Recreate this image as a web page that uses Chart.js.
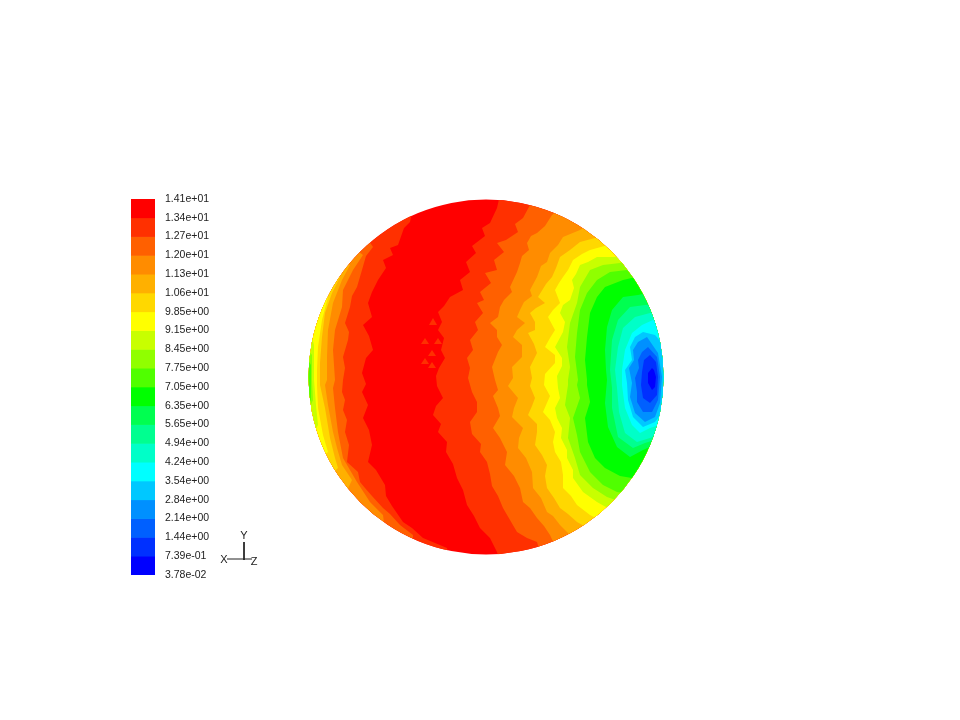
<!DOCTYPE html>
<html>
<head>
<meta charset="utf-8">
<title>Contours</title>
<script src="https://cdn.jsdelivr.net/npm/chart.js@4"></script>
<style>
    html, body { margin: 0; padding: 0; background: #fff; }
    #wrap { position: relative; width: 960px; height: 720px; overflow: hidden; }
    canvas { position: absolute; filter: blur(0.5px); }
    #sphereChart { left: 0; top: 0; }
    #legendChart { left: 131px; top: 179px; }
</style>
</head>
<body>
<div id="wrap">
    <canvas id="sphereChart" width="960" height="720"></canvas>
    <canvas id="legendChart" width="84" height="420"></canvas>
</div>
<script>
const levelLabels = ['1.41e+01', '1.34e+01', '1.27e+01', '1.20e+01', '1.13e+01', '1.06e+01', '9.85e+00',
    '9.15e+00', '8.45e+00', '7.75e+00', '7.05e+00', '6.35e+00', '5.65e+00', '4.94e+00', '4.24e+00',
    '3.54e+00', '2.84e+00', '2.14e+00', '1.44e+00', '7.39e-01', '3.78e-02'];
const levelColors = ['#ff0000', '#ff3000', '#ff6000', '#ff8c00', '#ffb000', '#ffd800', '#ffff00',
    '#c8ff00', '#90ff00', '#50ff00', '#00ff00', '#00ff50', '#00ff90', '#00ffc8', '#00ffff',
    '#00c8ff', '#0090ff', '#0060ff', '#0030ff', '#0000ff'];

// contour lines, top to bottom; [x, y] in picture pixels
const rightContours = [
    [[500,195],[497,208],[490,223],[482,228],[485,236],[472,246],[476,253],[466,262],[470,272],[460,280],[463,290],[450,297],[444,306],[438,312],[442,322],[438,330],[444,338],[441,350],[445,358],[439,368],[436,376],[437,386],[443,398],[436,406],[433,415],[441,424],[438,432],[447,442],[446,452],[453,464],[457,478],[463,490],[467,505],[474,516],[480,528],[490,538],[497,552],[500,562]],
    [[530,205],[523,218],[515,224],[518,232],[506,240],[497,243],[504,252],[494,260],[497,270],[485,273],[491,283],[480,292],[484,300],[477,303],[483,313],[475,322],[478,330],[470,340],[473,350],[467,358],[470,368],[468,378],[472,392],[477,402],[477,412],[470,422],[472,434],[481,444],[480,452],[487,462],[490,474],[492,486],[498,496],[503,508],[510,520],[517,532],[527,538],[537,542],[540,552]],
    [[558,210],[552,215],[545,226],[537,233],[531,236],[527,243],[529,250],[522,256],[520,263],[517,272],[510,287],[512,292],[504,300],[500,307],[498,317],[490,323],[497,330],[497,337],[502,345],[498,352],[492,367],[495,380],[498,390],[493,396],[498,408],[500,416],[493,428],[500,438],[507,452],[505,465],[514,476],[520,488],[523,502],[530,508],[537,518],[544,526],[550,535],[556,548]],
    [[588,225],[580,230],[563,237],[558,245],[550,253],[547,262],[541,266],[537,277],[530,290],[532,296],[524,302],[520,310],[517,317],[525,323],[517,330],[513,337],[522,345],[522,357],[512,367],[513,378],[508,386],[518,398],[514,408],[512,417],[523,428],[519,438],[518,448],[526,458],[532,472],[533,488],[541,498],[547,512],[553,516],[560,525],[575,540]],
    [[603,235],[595,238],[580,242],[570,250],[560,257],[556,268],[552,277],[546,284],[538,297],[545,303],[536,308],[530,313],[535,322],[535,330],[528,333],[534,344],[537,353],[530,367],[532,378],[530,386],[535,398],[532,406],[528,415],[537,424],[537,432],[535,445],[542,455],[547,465],[545,476],[547,488],[554,498],[560,508],[568,514],[577,522],[600,535]],
    [[615,240],[608,245],[590,250],[582,254],[573,260],[568,270],[563,277],[559,283],[555,290],[560,303],[553,310],[548,317],[555,330],[550,338],[545,347],[555,355],[555,363],[545,374],[544,385],[550,396],[543,412],[550,420],[555,432],[553,442],[555,452],[561,462],[563,475],[563,488],[571,496],[577,505],[590,515],[610,525]],
    [[622,252],[615,257],[597,257],[588,262],[580,265],[576,274],[572,280],[574,288],[570,300],[563,305],[560,313],[565,322],[563,332],[555,347],[562,358],[562,366],[557,376],[558,388],[560,398],[555,408],[557,418],[562,428],[561,438],[567,450],[567,458],[573,470],[573,478],[583,492],[597,502],[620,515]],
    [[628,258],[620,263],[603,265],[590,270],[580,287],[577,303],[570,323],[567,347],[570,367],[568,380],[568,385],[565,405],[570,418],[568,438],[575,458],[580,475],[593,488],[607,497],[630,505]],
    [[635,268],[627,270],[610,272],[597,280],[587,293],[580,310],[577,333],[575,357],[578,380],[577,385],[580,398],[573,418],[577,435],[580,452],[590,472],[603,485],[617,492],[640,495]],
    [[640,276],[623,280],[605,287],[597,297],[590,313],[587,337],[585,360],[587,380],[587,385],[590,402],[585,418],[588,442],[595,458],[605,468],[620,476],[632,478],[650,476]],
    [[652,292],[638,295],[623,297],[612,310],[607,327],[605,350],[606,370],[607,380],[605,403],[608,427],[617,447],[630,457],[643,450],[665,440]],
    [[660,304],[645,305],[630,307],[618,320],[612,340],[610,370],[612,388],[612,408],[618,437],[633,448],[645,443],[670,435]],
    [[664,312],[650,313],[635,317],[623,328],[618,347],[615,370],[617,388],[619,412],[625,433],[637,442],[650,438],[672,428]],
    [[668,320],[653,320],[642,325],[632,333],[625,350],[622,370],[622,385],[625,408],[632,425],[640,433],[650,428],[675,420]]
];
const leftContours = [
    [[413,208],[410,222],[404,228],[398,245],[390,248],[393,255],[383,260],[386,268],[378,280],[372,292],[368,303],[372,317],[363,325],[369,336],[373,350],[366,358],[362,373],[366,384],[362,392],[368,405],[363,418],[369,430],[372,445],[368,462],[376,470],[385,485],[386,496],[392,506],[403,522],[412,528],[423,538],[447,548],[450,562]],
    [[365,235],[373,247],[366,256],[362,270],[357,287],[352,296],[350,307],[345,323],[349,332],[348,340],[343,357],[345,368],[343,380],[342,392],[345,400],[343,410],[347,420],[345,432],[349,445],[347,462],[358,472],[360,482],[365,488],[372,496],[383,508],[390,514],[400,525],[413,535],[413,550]],
    [[350,245],[363,255],[353,270],[343,290],[342,307],[335,330],[333,350],[335,380],[333,388],[335,408],[338,432],[343,458],[357,482],[370,502],[383,515],[385,530]],
    [[335,255],[350,265],[342,280],[333,303],[328,330],[327,357],[327,380],[325,385],[328,405],[333,432],[337,448],[342,465],[352,480],[345,495]],
    [[325,265],[340,277],[332,293],[325,313],[322,337],[320,363],[320,385],[325,408],[330,438],[335,458],[338,468],[325,480]],
    [[325,275],[328,297],[322,320],[318,347],[317,370],[317,385],[318,408],[323,435],[328,452],[318,460]],
    [[310,330],[314,345],[314,380],[316,405],[318,425],[310,440]],
    [[305,345],[312,355],[312,380],[313,400],[305,420]],
    [[305,355],[311,365],[311,385],[311,400],[305,410]]
];
// closed rings round the cold spot, outermost first
const spotContours = [
    [[643,332],[635,337],[630,347],[632,360],[625,370],[627,383],[628,400],[633,417],[643,427],[655,422],[664,410],[666,377],[664,345],[655,335]],
    [[647,337],[638,342],[633,350],[634,360],[629,368],[632,383],[630,397],[635,413],[645,422],[655,417],[660,403],[662,377],[658,353]],
    [[648,347],[642,352],[638,360],[639,368],[635,378],[637,392],[637,402],[643,412],[652,412],[658,400],[660,377],[657,357]],
    [[650,355],[644,360],[642,372],[641,385],[643,398],[650,403],[657,395],[658,377],[656,362]],
    [[652,368],[648,373],[648,383],[652,390],[655,387],[656,377],[654,370]]
];
// small lighter triangles left inside the red band
const redSpeckles = [
    [[433,318],[429,325],[437,325]], [[425,338],[421,344],[429,344]], [[438,338],[434,344],[442,344]],
    [[432,350],[428,356],[436,356]], [[432,362],[428,368],[436,368]], [[425,358],[421,364],[429,364]]
];
const sphereBounds = [[300,190],[672,190],[672,566],[300,566]];
const sphereCenter = [486, 377];
const sphereRadius = 177.5;

const triadLines = [[[244,542],[244,560]], [[227,559],[252,559]]];
const triadLabels = [['Y', 244, 536], ['X', 224, 560], ['Z', 254, 562]];

function polygon(points, color) {
    return {
        data: points.map(([x, y]) => ({ x, y })),
        backgroundColor: color,
        borderWidth: 0,
        pointRadius: 0,
        tension: 0,
        fill: 'shape'
    };
}

function buildDatasets() {
    const paintOrder = [polygon(sphereBounds, levelColors[0])];
    redSpeckles.forEach(points => paintOrder.push(polygon(points, levelColors[1])));
    rightContours.forEach((curve, i) => {
        const first = curve[0], last = curve[curve.length - 1];
        paintOrder.push(polygon([...curve, [700, last[1]], [700, first[1]]], levelColors[i + 1]));
        // the left side of the sphere falls through the same colours
        if (leftContours[i]) {
            const top = leftContours[i][0], bottom = leftContours[i][leftContours[i].length - 1];
            paintOrder.push(polygon([...leftContours[i], [280, bottom[1]], [280, top[1]]], levelColors[i + 1]));
        }
    });
    spotContours.forEach((ring, i) => paintOrder.push(polygon(ring, levelColors[i + 15])));
    const lines = triadLines.map(points => ({
        data: points.map(([x, y]) => ({ x, y })),
        borderColor: '#222',
        borderWidth: 1,
        pointRadius: 0,
        fill: false
    }));
    // chart.js paints the last dataset first
    return [...lines, ...paintOrder.reverse()];
}

const sphereClip = {
    id: 'sphereClip',
    beforeDatasetsDraw(chart) {
        const { ctx, scales } = chart;
        ctx.save();
        ctx.beginPath();
        ctx.arc(scales.x.getPixelForValue(sphereCenter[0]), scales.y.getPixelForValue(sphereCenter[1]), sphereRadius, 0, Math.PI * 2);
        ctx.clip();
    },
    afterDatasetDraw(chart, args) {
        // the sphere datasets end here, only the triad comes after
        if (args.index === triadLines.length) chart.ctx.restore();
    },
    afterDatasetsDraw(chart) {
        const { ctx, scales } = chart;
        ctx.save();
        ctx.fillStyle = '#222';
        ctx.font = '11px "Liberation Sans", Arial, sans-serif';
        ctx.textAlign = 'center';
        ctx.textBaseline = 'middle';
        triadLabels.forEach(([text, x, y]) => {
            ctx.fillText(text, scales.x.getPixelForValue(x), scales.y.getPixelForValue(y));
        });
        ctx.restore();
    }
};

new Chart(document.getElementById('sphereChart'), {
    type: 'line',
    data: { datasets: buildDatasets() },
    plugins: [sphereClip],
    options: {
        responsive: false,
        animation: false,
        events: [],
        layout: { padding: 0 },
        plugins: { legend: { display: false }, tooltip: { enabled: false } },
        scales: {
            x: { type: 'linear', display: false, min: 0, max: 960 },
            y: { type: 'linear', display: false, min: 0, max: 720, reverse: true }
        }
    }
});

new Chart(document.getElementById('legendChart'), {
    type: 'bar',
    data: {
        labels: ['levels'],
        datasets: levelColors.map(color => ({
            data: [1],
            backgroundColor: color,
            borderWidth: 0,
            barPercentage: 1,
            categoryPercentage: 1
        }))
    },
    options: {
        responsive: false,
        animation: false,
        events: [],
        layout: { padding: { top: 20, bottom: 24 } },
        plugins: { legend: { display: false }, tooltip: { enabled: false } },
        scales: {
            x: { stacked: true, display: false },
            y: {
                stacked: true,
                position: 'right',
                reverse: true,
                min: 0,
                max: levelColors.length,
                afterFit: scale => { scale.width = 60; },
                border: { display: false },
                grid: { display: false, drawTicks: false },
                ticks: {
                    stepSize: 1,
                    autoSkip: false,
                    padding: 10,
                    color: '#222',
                    font: { family: '"Liberation Sans", Arial, sans-serif', size: 10.5 },
                    callback: value => levelLabels[value]
                }
            }
        }
    }
});
</script>
</body>
</html>
